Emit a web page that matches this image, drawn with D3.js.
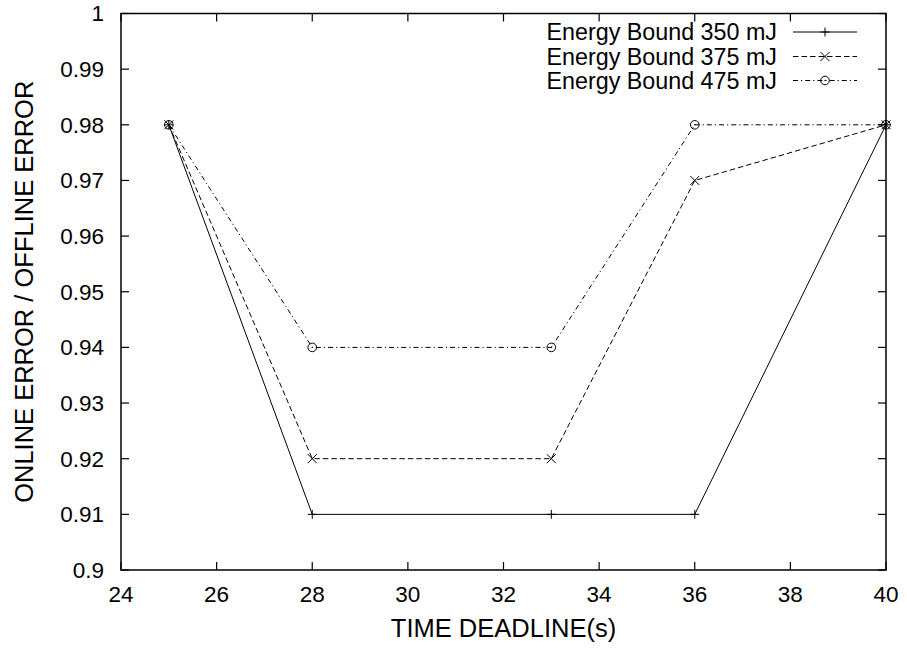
<!DOCTYPE html>
<html><head><meta charset="utf-8">
<script src="https://cdn.jsdelivr.net/npm/d3@7"></script>
<style>
html,body{margin:0;padding:0;background:#fff;}
svg{display:block;font-family:"Liberation Sans",Arial,sans-serif;}
</style></head>
<body>
<svg id="c" width="907" height="648"></svg>
<script>
const xValues = [25, 28, 33, 36, 40];
const series350 = [0.98, 0.91, 0.91, 0.91, 0.98];
const series375 = [0.98, 0.92, 0.92, 0.97, 0.98];
const series475 = [0.98, 0.94, 0.94, 0.98, 0.98];
const seriesNames = ["Energy Bound 350 mJ", "Energy Bound 375 mJ", "Energy Bound 475 mJ"];
const xTicks = [24, 26, 28, 30, 32, 34, 36, 38, 40];
const yTicks = [0.9, 0.91, 0.92, 0.93, 0.94, 0.95, 0.96, 0.97, 0.98, 0.99, 1];
const xTitle = "TIME DEADLINE(s)";
const yTitle = "ONLINE ERROR / OFFLINE ERROR";

const svg = d3.select("#c");
const L = 121, R = 886, T = 13.5, B = 570;
const FS_TICK = 22.5, FS_LEG = 23.3, FS_TITLE = 25.5;
const x = d3.scaleLinear().domain([24, 40]).range([L, R]);
const y = d3.scaleLinear().domain([0.9, 1]).range([B, T]);

const styles = [
  {dash: null, marker: "plus"},
  {dash: "5.5,3", marker: "x"},
  {dash: "5,3,1.2,3", marker: "circle"}
];
const allSeries = [series350, series375, series475];

// ticks (inward, mirrored)
const tl = 8;
const g = svg.append("g").attr("stroke", "#000").attr("stroke-width", 1.2);
xTicks.forEach(v => {
  g.append("line").attr("x1", x(v)).attr("x2", x(v)).attr("y1", B).attr("y2", B - tl);
  g.append("line").attr("x1", x(v)).attr("x2", x(v)).attr("y1", T).attr("y2", T + tl);
});
yTicks.forEach(v => {
  g.append("line").attr("x1", L).attr("x2", L + tl).attr("y1", y(v)).attr("y2", y(v));
  g.append("line").attr("x1", R).attr("x2", R - tl).attr("y1", y(v)).attr("y2", y(v));
});
svg.append("rect").attr("x", L).attr("y", T).attr("width", R - L).attr("height", B - T)
  .attr("fill", "none").attr("stroke", "#000").attr("stroke-width", 1.5);

// tick labels
svg.append("g").selectAll("text").data(xTicks).join("text")
  .attr("x", d => x(d)).attr("y", B + 32).attr("text-anchor", "middle")
  .attr("font-size", FS_TICK).text(d => d);
svg.append("g").selectAll("text").data(yTicks).join("text")
  .attr("x", L - 17).attr("y", d => y(d)).attr("dy", "0.35em").attr("text-anchor", "end")
  .attr("font-size", FS_TICK).text(d => d3.format("")(+d.toFixed(2)));

svg.append("text").attr("x", (L + R) / 2).attr("y", 637).attr("text-anchor", "middle")
  .attr("font-size", FS_TITLE).text(xTitle);
svg.append("text").attr("transform", `translate(33,${(T + B) / 2}) rotate(-90)`)
  .attr("text-anchor", "middle").attr("font-size", FS_TITLE).text(yTitle);

function drawMarker(sel, type, cx, cy) {
  const s = 4.5;
  if (type === "plus") {
    sel.append("path").attr("d", `M${cx - s},${cy}H${cx + s}M${cx},${cy - s}V${cy + s}`)
      .attr("stroke", "#000").attr("stroke-width", 1).attr("fill", "none");
  } else if (type === "x") {
    sel.append("path").attr("d", `M${cx - s},${cy - s}L${cx + s},${cy + s}M${cx - s},${cy + s}L${cx + s},${cy - s}`)
      .attr("stroke", "#000").attr("stroke-width", 1).attr("fill", "none");
  } else {
    sel.append("circle").attr("cx", cx).attr("cy", cy).attr("r", 4.3)
      .attr("stroke", "#000").attr("stroke-width", 1).attr("fill", "none");
    sel.append("circle").attr("cx", cx).attr("cy", cy).attr("r", 0.7).attr("fill", "#000");
  }
}

const line = d3.line().x(d => x(d[0])).y(d => y(d[1]));
allSeries.forEach((vals, i) => {
  const pts = xValues.map((xv, j) => [xv, vals[j]]);
  const gs = svg.append("g");
  gs.append("path").attr("d", line(pts)).attr("fill", "none").attr("stroke", "#000")
    .attr("stroke-width", 1).attr("stroke-dasharray", styles[i].dash);
  pts.forEach(p => drawMarker(gs, styles[i].marker, x(p[0]), y(p[1])));
});

// legend
const legY = [32, 56.5, 80.5];
seriesNames.forEach((name, i) => {
  const lg = svg.append("g");
  lg.append("text").attr("x", 777).attr("y", legY[i]).attr("dy", "0.35em")
    .attr("text-anchor", "end").attr("font-size", FS_LEG).text(name);
  lg.append("line").attr("x1", 793).attr("x2", 857).attr("y1", legY[i]).attr("y2", legY[i])
    .attr("stroke", "#000").attr("stroke-width", 1).attr("stroke-dasharray", styles[i].dash);
  drawMarker(lg, styles[i].marker, 825, legY[i]);
});
</script>
</body></html>
